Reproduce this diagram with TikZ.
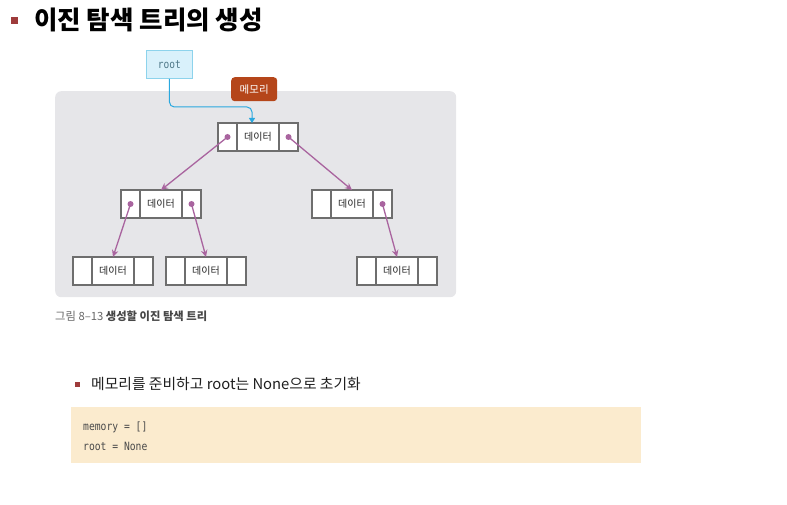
\documentclass[tikz,border=0pt]{standalone}
\usepackage{fontspec}
\setmainfont{Noto Sans CJK KR}
\newfontfamily\krfont{Noto Sans CJK KR}
\newfontfamily\codefont[FakeStretch=0.85]{DejaVu Sans Mono}
\usetikzlibrary{arrows.meta,calc}
\definecolor{panelgray}{HTML}{E6E6E9}
\definecolor{rootfill}{HTML}{D9F1FB}
\definecolor{rootline}{HTML}{8DD3EC}
\definecolor{roottext}{HTML}{4F7888}
\definecolor{memfill}{HTML}{B5461A}
\definecolor{cyanarrow}{HTML}{2AA8DF}
\definecolor{purp}{HTML}{A9649F}
\definecolor{cellline}{HTML}{6E6E6E}
\definecolor{bulletred}{HTML}{9E3B3B}
\definecolor{codefill}{HTML}{FBEBCE}
\definecolor{codetext}{HTML}{4A4A4A}
\tikzset{
  sidecell/.style={draw=cellline, line width=1.6pt, fill=white, minimum width=19pt, minimum height=28pt, inner sep=0pt, outer sep=0pt},
  midcell/.style={draw=cellline, line width=1.6pt, fill=white, minimum width=42pt, minimum height=28pt, inner sep=0pt, outer sep=0pt, font=\krfont\fontsize{10}{12}\selectfont, text=black!85},
  ptrdot/.style={circle, fill=purp, inner sep=0pt, minimum size=6pt},
  ptrarrow/.style={draw=purp, line width=1.3pt, -{Stealth[length=7pt,width=6.5pt]}, shorten <=-1pt},
  codeline/.style={anchor=west, inner sep=0pt, font=\codefont\fontsize{11.4}{13}\selectfont, text=codetext},
}
\newcommand{\treenode}[3]{%
  \node[sidecell, anchor=north west] (#1-l) at (#2,#3) {};
  \node[midcell, anchor=north west] (#1-m) at (#1-l.north east) {데이터};
  \node[sidecell, anchor=north west] (#1-r) at (#1-m.north east) {};
}
\begin{document}
\begin{tikzpicture}[x=1pt,y=-1pt]
\useasboundingbox (0,0) rectangle (787,505);
% title
\node[fill=bulletred, minimum size=7pt, inner sep=0pt] (b1) at (14.5,20.5) {};
\node[anchor=west, inner sep=0pt, font=\krfont\bfseries\fontsize{25.5}{29}\selectfont] (title) at (34,20) {이진 탐색 트리의 생성};
% panel
\node[fill=panelgray, rounded corners=6pt, minimum width=401pt, minimum height=206pt, anchor=north west, inner sep=0pt] (panel) at (55,91) {};
% root box
\node[fill=rootfill, draw=rootline, line width=0.8pt, minimum width=46pt, minimum height=28pt, anchor=north west, inner sep=0pt, font=\codefont\fontsize{11.2}{13}\selectfont, text=roottext] (rootbox) at (146,50) {root};
% memory label
\node[fill=memfill, rounded corners=3.5pt, minimum width=46pt, minimum height=24pt, anchor=north west, inner sep=0pt, text=white, font=\krfont\fontsize{10.5}{12}\selectfont] (mem) at (231,77) {메모리};
% tree nodes
\treenode{n1}{218}{123}
\treenode{n2}{121}{190}
\treenode{n3}{312}{190}
\treenode{n4}{73}{257}
\treenode{n5}{166}{257}
\treenode{n6}{357}{257}
% root arrow
\coordinate (rootend) at ([xshift=-6pt]n1-m.north);
\draw[cyanarrow, line width=1pt, rounded corners=5pt, -{Triangle[length=5pt,width=6pt]}] (rootbox.south) |- ([yshift=16pt]rootend) -- (rootend);
% dots and pointers
\node[ptrdot] (d1l) at (n1-l.center) {};
\node[ptrdot] (d1r) at (n1-r.center) {};
\node[ptrdot] (d2l) at (n2-l.center) {};
\node[ptrdot] (d2r) at (n2-r.center) {};
\node[ptrdot] (d3r) at (n3-r.center) {};
\draw[ptrarrow] (d1l.center) -- (n2-m.north);
\draw[ptrarrow] (d1r.center) -- (n3-m.north);
\draw[ptrarrow] (d2l.center) -- (n4-m.north);
\draw[ptrarrow] (d2r.center) -- (n5-m.north);
\draw[ptrarrow] (d3r.center) -- (n6-m.north);
% caption
\node[anchor=west, inner sep=0pt, font=\krfont\fontsize{11.3}{13}\selectfont, text=black!60] (cap) at (55,316) {그림 8–13 \textbf{\color{black!72}생성할 이진 탐색 트리}};
% bullet 2
\node[fill=bulletred, minimum size=4.5pt, inner sep=0pt] (b2) at (77.5,384.5) {};
\node[anchor=west, inner sep=0pt, font=\krfont\fontsize{14.8}{17}\selectfont, text=black!88] (sub) at (91,384) {메모리를 준비하고 root는 None으로 초기화};
% code box
\node[fill=codefill, minimum width=570pt, minimum height=56pt, anchor=north west, inner sep=0pt] (codebox) at (71,407) {};
\node[codeline] (c1) at (83,427) {memory = []};
\node[codeline] (c2) at (83,446) {root = None};
\end{tikzpicture}
\end{document}
